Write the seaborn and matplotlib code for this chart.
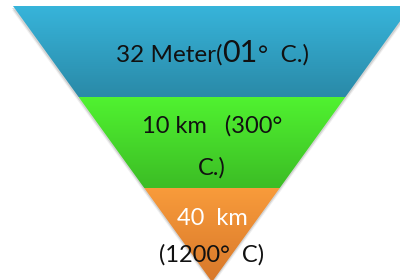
import numpy as np
import seaborn as sns
import matplotlib.pyplot as plt
from matplotlib.patches import Polygon

# layers of the inverted triangle, top to apex
layer_names = ['crust', 'mantle', 'core']
layer_edges = [6, 97, 188, 282]          # depth boundaries (apex at the last one)
top_colors = ['#37b4da', '#50f230', '#f89b3b']
bottom_colors = ['#2a8aa8', '#3cbd25', '#d8782a']

# text of each layer (line 1 of the top layer is split because "01" is bigger)
top_parts = ['32 Meter(', '01', '°  C.)']
top_sizes = [17.5, 22, 17.5]
mid_lines = ['10 km   (300°', 'C.)']
low_lines = ['40  km', '(1200°  C)']

sns.set_theme(style='white')
plt.rcParams['font.family'] = ['Lato', 'DejaVu Sans']

cx = 212
half_top = 199
fs = 17


def half_width(y):
    return half_top * (layer_edges[-1] - y) / (layer_edges[-1] - layer_edges[0])


fig = plt.figure(figsize=(4, 2.8), dpi=100)
ax = fig.add_axes([0, 0, 1, 1])
ax.set_xlim(0, 400)
ax.set_ylim(280, 0)

# soft shadow under the triangle
for off, a in [(4, 0.12), (2, 0.25)]:
    tri = [(cx - half_top - 1, layer_edges[0] + off), (cx + half_top + 1, layer_edges[0] + off),
           (cx, layer_edges[-1] + off)]
    ax.add_patch(Polygon(tri, closed=True, color='#808080', alpha=a, lw=0, zorder=1))

for i, name in enumerate(layer_names):
    y0, y1 = layer_edges[i], layer_edges[i + 1]
    w0, w1 = half_width(y0), half_width(y1)
    shape = Polygon([(cx - w0, y0), (cx + w0, y0), (cx + w1, y1), (cx - w1, y1)],
                    closed=True, transform=ax.transData)
    pal = sns.blend_palette([top_colors[i], bottom_colors[i]], n_colors=64)
    img = np.array(pal).reshape(64, 1, 3)
    im = ax.imshow(img, extent=(cx - w0, cx + w0, y1, y0), aspect='auto',
                   interpolation='bilinear', zorder=2)
    im.set_clip_path(shape)

ax.set_xlim(0, 400)
ax.set_ylim(280, 0)

# first line: pieces placed one after another
renderer = fig.canvas.get_renderer()
x = 116
for part, size in zip(top_parts, top_sizes):
    t = ax.text(x, 62, part, fontsize=size, ha='left', va='baseline', color='#111111', zorder=3)
    bb = t.get_window_extent(renderer)
    x = ax.transData.inverted().transform((bb.x1, bb.y0))[0]

ax.text(cx, 133, mid_lines[0], fontsize=fs, ha='center', va='baseline', color='#111111', zorder=3)
ax.text(cx, 175, mid_lines[1], fontsize=fs, ha='center', va='baseline', color='#111111', zorder=3)

ax.text(cx, 225, low_lines[0], fontsize=fs, ha='center', va='baseline', color='white', zorder=3)
ax.text(cx, 262, low_lines[1], fontsize=fs, ha='center', va='baseline', color='#111111', zorder=3)

ax.axis('off')

fig.savefig('out.png', dpi=100)
